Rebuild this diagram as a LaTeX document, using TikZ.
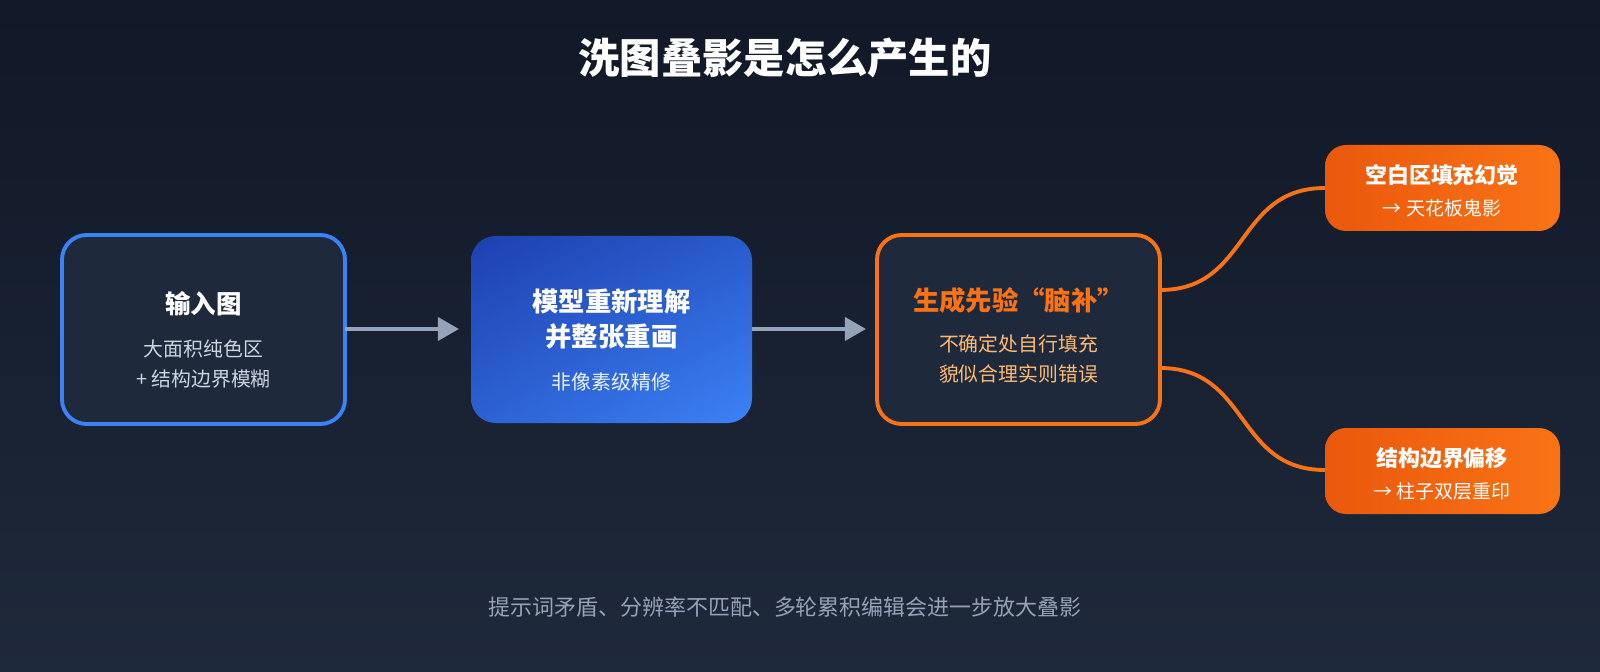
\documentclass[tikz,border=0pt]{standalone}
\usepackage{fontspec}
\setmainfont{Noto Sans CJK SC}
\usetikzlibrary{arrows.meta,shadings}
\definecolor{bgtop}{HTML}{111827}
\definecolor{bgbot}{HTML}{1E293B}
\definecolor{boxfill}{HTML}{1E293B}
\definecolor{blueA}{HTML}{1E40AF}
\definecolor{blueB}{HTML}{3B82F6}
\definecolor{orA}{HTML}{EA580C}
\definecolor{orB}{HTML}{F97316}
\definecolor{graytxt}{HTML}{CBD5E1}
\definecolor{arrowgray}{HTML}{94A3B8}
\definecolor{peach}{HTML}{FDBA74}
\tikzset{
  card/.style={rounded corners=14pt, line width=2.2pt},
  ttl/.style={text=white, font=\bfseries\fontsize{14.5}{19}\selectfont, align=center},
  sub/.style={text=graytxt, font=\fontsize{11.3}{17}\selectfont, align=center},
  small/.style={text=white, font=\fontsize{10.8}{14}\selectfont, align=center},
  flow/.style={draw=arrowgray, line width=2.5pt, -{Triangle[length=12pt,width=13pt]}},
  branch/.style={draw=orB, line width=2.2pt},
}
\begin{document}
\begin{tikzpicture}[x=0.02cm,y=-0.02cm]
\shade[top color=bgtop,bottom color=bgbot] (0,0) rectangle (1600,672);
\useasboundingbox (0,0) rectangle (1600,672);
\node[text=white,font=\bfseries\fontsize{23.5}{28}\selectfont] (title) at (785,58) {洗图叠影是怎么产生的};
% box1
\draw[card, draw=blueB, fill=boxfill] (62,235) rectangle (345,424);
\node[ttl] (b1t) at (203.5,304) {输入图};
\node[sub] (b1s) at (203.5,364) {大面积纯色区\\+ 结构边界模糊};
\coordinate (b1) at (345,329);
% box2
\shade[rounded corners=14pt, upper left=blueA, upper right=blueA!60!blueB, lower left=blueA!50!blueB, lower right=blueB] (471,236) rectangle (752,423);
\node[ttl, font=\bfseries\fontsize{15}{20}\selectfont] (b2t) at (611.5,319) {模型重新理解\\并整张重画};
\node[sub, text=white!90!blueB] (b2s) at (611.5,382) {非像素级精修};
\coordinate (b2in) at (459,329);
\coordinate (b2out) at (752,329);
% box3
\draw[card, draw=orB, fill=boxfill] (877,235) rectangle (1160,424);
\node[ttl, text=orB, font=\bfseries\fontsize{15}{19}\selectfont] (b3t) at (1018.5,300) {生成先验“脑补”};
\node[sub, text=peach] (b3s) at (1018.5,359) {不确定处自行填充\\貌似合理实则错误};
\coordinate (b3in) at (866,329);
\coordinate (b3a) at (1160,290);
\coordinate (b3b) at (1160,368);
% box4, box5
\shade[rounded corners=12pt, left color=orA, right color=orB] (1325,145) rectangle (1560,231);
\node[ttl, font=\bfseries\fontsize{12.5}{15}\selectfont] (b4t) at (1442,175) {空白区填充幻觉};
\node[small] (b4s) at (1442,208) {→ 天花板鬼影};
\coordinate (b4) at (1325,188);
\shade[rounded corners=12pt, left color=orA, right color=orB] (1325,428) rectangle (1560,514);
\node[ttl, font=\bfseries\fontsize{12.5}{15}\selectfont] (b5t) at (1442,458) {结构边界偏移};
\node[small] (b5s) at (1442,491) {→ 柱子双层重印};
\coordinate (b5) at (1325,470);
% connectors
\draw[flow] (b1) -- (b2in);
\draw[flow] (b2out) -- (b3in);
\draw[branch] (b3a) .. controls (1250,290) and (1235,188) .. (b4);
\draw[branch] (b3b) .. controls (1250,368) and (1235,470) .. (b5);
\node[text=arrowgray, font=\fontsize{12.5}{15}\selectfont] (foot) at (785,607) {提示词矛盾、分辨率不匹配、多轮累积编辑会进一步放大叠影};
\end{tikzpicture}
\end{document}
